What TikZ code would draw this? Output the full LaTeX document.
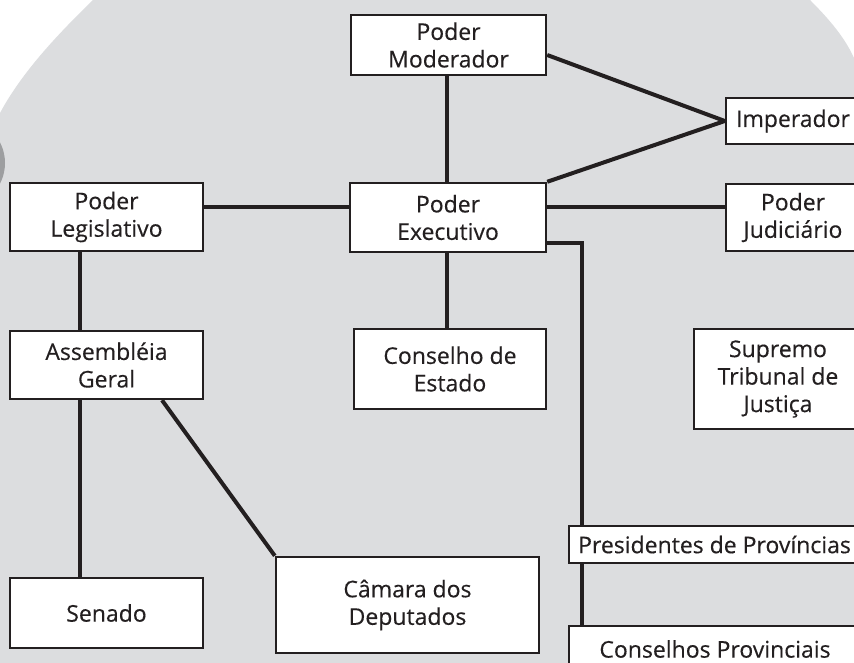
\documentclass[tikz,border=0pt]{standalone}
\usepackage{fontspec}
\setmainfont{Open Sans}
\newfontfamily\boxfont[FakeBold=0.3]{Open Sans}
\usepackage{tikz}
\definecolor{ink}{HTML}{231F20}
\definecolor{paper}{HTML}{DCDDDF}
\definecolor{rim}{HTML}{9D9EA0}

\begin{document}
\begin{tikzpicture}[x=1pt,y=-1pt]
\tikzset{box/.style={draw=ink,fill=white,line width=2.4pt,align=center,inner sep=0pt,
    text=ink,font=\boxfont\fontsize{23}{27.5}\selectfont},
  link/.style={draw=ink,line width=4pt,line join=miter}}
\useasboundingbox (0,0) rectangle (854,663);
\clip (0,0) rectangle (854,663);
% grey background
\fill[paper] (93,0) -- (810,0) .. controls (830,20) and (845,38) .. (854,58)
  -- (854,663) -- (0,663) -- (0,113) .. controls (22,72) and (58,34) .. (93,0) -- cycle;
\fill[rim] (-40,163) circle[radius=45];
% boxes
\node[box,minimum width=195,minimum height=60] (mod) at (448.5,45) {Poder\\Moderador};
\node[box,minimum width=134,minimum height=46] (imp) at (793,121) {Imperador};
\node[box,minimum width=193,minimum height=68] (leg) at (106.5,217) {Poder\\Legislativo};
\node[box,minimum width=196,minimum height=69] (exe) at (448,217.5) {Poder\\Executivo};
\node[box,minimum width=134,minimum height=67] (jud) at (793,217.5) {Poder\\Judiciário};
\node[box,minimum width=193,minimum height=68] (ass) at (106.5,365) {Assembléia\\Geral};
\node[box,minimum width=192,minimum height=80] (con) at (450,369) {Conselho de\\Estado};
\node[box,minimum width=168,minimum height=100] (stj) at (778,379) {Supremo\\Tribunal de\\Justiça};
\node[box,minimum width=291,minimum height=37] (pre) at (714.5,544.5) {Presidentes de Províncias};
\node[box,minimum width=193,minimum height=70] (sen) at (106.5,613) {Senado};
\node[box,minimum width=263,minimum height=96] (cam) at (407.5,605) {Câmara dos\\Deputados};
\node[box,minimum width=292,minimum height=46] (cpv) at (715,649) {Conselhos Provinciais};
% connectors
\draw[link] ([xshift=-1.5]mod.south) -- ([xshift=-1]exe.north);
\draw[link] ([yshift=-10]mod.east) -- (imp.west);
\draw[link] (exe.north east) -- (imp.west);
\draw[link] ([yshift=10]leg.east) -- ([yshift=10.5]exe.west);
\draw[link] ([yshift=10.5]exe.east) -- ([yshift=10.5]jud.west);
\draw[link] ([xshift=-1]exe.south) -- ([xshift=-3]con.north);
\draw[link] ([yshift=-25.5]exe.east) -| ([xshift=-132.5]pre.north);
\draw[link] ([xshift=-132.5]pre.south) -- ([xshift=-133]cpv.north);
\draw[link] ([xshift=-26.5]leg.south) -- ([xshift=-26.5]ass.north);
\draw[link] ([xshift=-26.5]ass.south) -- ([xshift=-26.5]sen.north);
\draw[link] ([xshift=55.5]ass.south) -- (cam.north west);
\end{tikzpicture}
\end{document}
